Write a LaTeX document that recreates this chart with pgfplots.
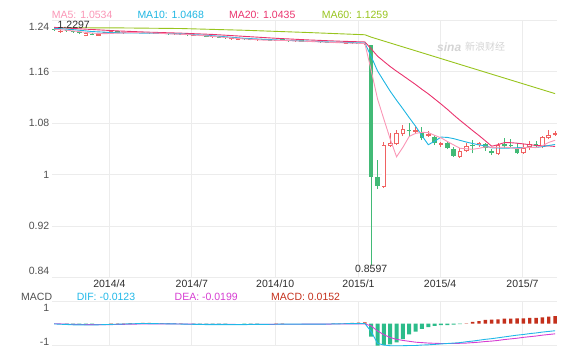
\documentclass[border=0pt]{standalone}
\usepackage{pgfplots}
\pgfplotsset{compat=1.18}
\usepackage{pgfplotstable}
\usepackage{fontspec}
\setmainfont{Liberation Sans}
\newfontfamily\cjk{Noto Sans CJK SC}
\definecolor{upc}{RGB}{240,98,98}
\definecolor{dnc}{RGB}{66,186,118}
\definecolor{ma5}{RGB}{250,150,182}
\definecolor{ma10}{RGB}{30,182,226}
\definecolor{ma20}{RGB}{234,52,110}
\definecolor{ma60}{RGB}{152,196,30}
\definecolor{difc}{RGB}{33,184,232}
\definecolor{deac}{RGB}{214,62,210}
\definecolor{barg}{RGB}{44,188,138}
\definecolor{barr}{RGB}{196,48,28}
\definecolor{gridc}{RGB}{236,236,236}
\definecolor{ylc}{RGB}{80,80,80}
\definecolor{xlc}{RGB}{45,45,45}
\definecolor{wmc}{RGB}{212,212,212}
\newcommand\lbl{\fontsize{10.5bp}{12bp}\selectfont}

\pgfplotstableread{
i O H L C
0 1.2262 1.2270 1.2240 1.2250
2 1.2240 1.2248 1.2222 1.2230
3 1.2228 1.2235 1.2205 1.2212
4 1.2212 1.2218 1.2186 1.2195
6 1.2190 1.2195 1.2165 1.2172
10 1.2222 1.2226 1.2205 1.2210
12 1.2215 1.2220 1.2198 1.2205
14 1.2210 1.2214 1.2196 1.2202
15 1.2202 1.2208 1.2190 1.2196
17 1.2198 1.2202 1.2184 1.2188
18 1.2190 1.2196 1.2178 1.2184
20 1.2188 1.2192 1.2170 1.2176
21 1.2176 1.2180 1.2160 1.2166
23 1.2170 1.2174 1.2150 1.2156
24 1.2156 1.2160 1.2138 1.2144
26 1.2144 1.2148 1.2124 1.2128
27 1.2128 1.2134 1.2116 1.2122
30 1.2112 1.2116 1.2098 1.2104
31 1.2104 1.2108 1.2088 1.2092
33 1.2100 1.2104 1.2086 1.2090
34 1.2090 1.2094 1.2078 1.2082
36 1.2094 1.2098 1.2080 1.2086
37 1.2086 1.2090 1.2070 1.2076
39 1.2080 1.2084 1.2064 1.2070
40 1.2070 1.2074 1.2058 1.2064
42 1.2068 1.2072 1.2050 1.2056
43 1.2056 1.2060 1.2044 1.2050
45 1.2056 1.2060 1.2040 1.2046
47 1.2052 1.2056 1.2034 1.2040
48 1.2040 1.2044 1.2026 1.2032
50 1.2016 1.2022 0.8597 0.9966
51 0.9966 1.0226 0.9774 0.9826
56 1.0700 1.0806 1.0588 1.0677
58 1.0666 1.0744 1.0537 1.0563
60 1.0588 1.0615 1.0459 1.0486
62 1.0486 1.0511 1.0392 1.0408
63 1.0397 1.0428 1.0272 1.0293
66 1.0459 1.0537 1.0330 1.0444
68 1.0475 1.0495 1.0370 1.0408
69 1.0366 1.0392 1.0303 1.0330
71 1.0475 1.0563 1.0408 1.0448
72 1.0459 1.0548 1.0408 1.0444
73 1.0392 1.0486 1.0325 1.0330
76 1.0475 1.0526 1.0423 1.0444
}\dnT

\pgfplotstableread{
i O H L C
1 1.2220 1.2297 1.2210 1.2240
5 1.2155 1.2205 1.2150 1.2200
7 1.2160 1.2190 1.2155 1.2185
8 1.2190 1.2225 1.2185 1.2218
9 1.2212 1.2230 1.2208 1.2222
11 1.2195 1.2222 1.2190 1.2216
13 1.2202 1.2215 1.2198 1.2210
16 1.2192 1.2206 1.2188 1.2200
19 1.2180 1.2194 1.2176 1.2190
22 1.2162 1.2176 1.2158 1.2172
25 1.2138 1.2150 1.2132 1.2146
28 1.2108 1.2130 1.2100 1.2124
29 1.2100 1.2125 1.2090 1.2112
32 1.2088 1.2104 1.2084 1.2100
35 1.2080 1.2098 1.2076 1.2094
38 1.2072 1.2084 1.2068 1.2080
41 1.2060 1.2072 1.2056 1.2068
44 1.2046 1.2060 1.2042 1.2056
46 1.2036 1.2085 1.2030 1.2052
49 1.2024 1.2036 1.2020 1.2030
52 0.9810 1.0511 0.9790 1.0459
53 1.0448 1.0646 1.0433 1.0486
54 1.0470 1.0693 1.0459 1.0641
55 1.0626 1.0771 1.0599 1.0708
57 1.0666 1.0744 1.0630 1.0693
59 1.0604 1.0682 1.0588 1.0630
61 1.0459 1.0511 1.0433 1.0486
64 1.0268 1.0408 1.0257 1.0370
65 1.0370 1.0486 1.0346 1.0448
67 1.0455 1.0511 1.0433 1.0486
70 1.0314 1.0495 1.0303 1.0459
74 1.0330 1.0475 1.0325 1.0408
75 1.0433 1.0526 1.0381 1.0475
77 1.0433 1.0599 1.0408 1.0588
78 1.0563 1.0693 1.0548 1.0615
79 1.0615 1.0682 1.0604 1.0641
}\upT

\pgfplotstableread{
i v
2 -0.02
3 -0.03
4 -0.04
5 -0.03
6 -0.02
22 -0.01
23 -0.015
24 -0.02
25 -0.02
26 -0.015
27 -0.01
30 -0.02
31 -0.02
32 -0.01
50 -0.59
51 -1.0
52 -0.97
53 -0.94
54 -0.85
55 -0.70
56 -0.48
57 -0.36
58 -0.24
59 -0.16
60 -0.10
61 -0.07
62 -0.06
63 -0.045
64 -0.015
}\macdG

\pgfplotstableread{
i v
9 0.01
10 0.02
11 0.02
12 0.03
13 0.03
14 0.035
15 0.035
16 0.03
17 0.03
18 0.025
19 0.02
20 0.015
35 0.01
36 0.01
44 0.01
45 0.02
46 0.03
47 0.04
48 0.05
49 0.06
65 0.02
66 0.08
67 0.12
68 0.17
69 0.18
70 0.20
71 0.23
72 0.23
73 0.245
74 0.245
75 0.26
76 0.27
77 0.29
78 0.32
79 0.35
}\macdR

\begin{document}
\begin{tikzpicture}[x=1bp,y=1bp]
\useasboundingbox (0,0) rectangle (566,357);

\begin{axis}[
  at={(52bp,79.6bp)}, anchor=south west,
  width=505bp, height=257.1bp, scale only axis,
  xmin=-0.33, xmax=79.3, ymin=0.84, ymax=1.24,
  axis line style={draw=none}, tick style={draw=none},
  xtick={8.714,21.714,34.857,48,60.857,73.857},
  xticklabels={2014/4,2014/7,2014/10,2015/1,2015/4,2015/7},
  ytick={0.84,0.92,1,1.08,1.16,1.24},
  yticklabels={,0.92,1,1.08,1.16,},
  grid=major, major grid style={draw=gridc, line width=0.7bp},
  xticklabel style={font=\lbl, text=xlc, inner sep=2.5bp},
  yticklabel style={font=\lbl, text=ylc, inner sep=2.5bp},
]
% down candles: wick, then filled body
\addplot[dnc, line width=1.1bp, forget plot, quiver={u=0, v={\thisrow{H}-\thisrow{L}}}]
  table[x=i, y=L] \dnT;
\addplot[dnc, line width=4.4bp, forget plot, quiver={u=0, v={max(\thisrow{O}-\thisrow{C},0.0016)}}]
  table[x=i, y=C] \dnT;
% up candles: wick, outline body, hollow inside
\addplot[upc, line width=1bp, forget plot, quiver={u=0, v={\thisrow{H}-\thisrow{L}}}]
  table[x=i, y=L] \upT;
\addplot[upc, line width=4.6bp, forget plot, quiver={u=0, v={max(\thisrow{C}-\thisrow{O},0.0016)}}]
  table[x=i, y=O] \upT;
\addplot[white, line width=2.8bp, forget plot, quiver={u=0, v={max(\thisrow{C}-\thisrow{O}-0.0028,0)}}]
  table[x=i, y expr={\thisrow{O}+0.0014}] \upT;

% moving averages
\addplot[ma60, line width=0.9bp, mark=none] coordinates {
(0,1.2285) (10,1.2282) (20,1.2272) (30,1.2245) (40,1.2210) (49,1.2175) (50,1.2138) (65,1.1683) (79,1.1259)};
\addplot[ma20, line width=0.9bp, mark=none] coordinates {
(0,1.2290) (5,1.2262) (10,1.2235) (15,1.2215) (20,1.2200) (25,1.2180) (30,1.2150) (35,1.2120) (40,1.2095) (45,1.2075) (49,1.2063)
(50,1.1956) (51,1.1842) (52,1.1760) (53,1.1680) (54,1.1608) (55,1.1540) (56,1.1470) (57,1.1401) (58,1.1326) (59,1.1256)
(60,1.1177) (61,1.1098) (62,1.1016) (63,1.0928) (64,1.0844) (65,1.0765) (66,1.0684) (67,1.0607) (68,1.0525) (69,1.0441)
(70,1.0465) (71,1.0497) (72,1.0496) (73,1.0488) (74,1.0477) (75,1.0465) (76,1.0453) (77,1.0448) (78,1.0446) (79,1.0437)};
\addplot[ma10, line width=0.9bp, mark=none] coordinates {
(0,1.2275) (3,1.2255) (6,1.2225) (10,1.2205) (15,1.2200) (20,1.2188) (25,1.2160) (30,1.2120) (35,1.2095) (40,1.2075) (45,1.2057) (49,1.2046)
(50,1.1836) (51,1.1612) (52,1.1453) (53,1.1296) (54,1.1156) (55,1.1023) (56,1.0885) (57,1.0751) (58,1.0604) (59,1.0465)
(60,1.0517) (61,1.0583) (62,1.0578) (63,1.0559) (64,1.0532) (65,1.0506) (66,1.0483) (67,1.0462) (68,1.0446) (69,1.0416)
(70,1.0413) (71,1.0410) (72,1.0413) (73,1.0417) (74,1.0421) (75,1.0423) (76,1.0423) (77,1.0434) (78,1.0452) (79,1.0468)};
\addplot[ma5, line width=0.9bp, mark=none] coordinates {
(0,1.2262) (2,1.2245) (4,1.2224) (6,1.2200) (8,1.2192) (10,1.2200) (12,1.2210) (15,1.2205) (18,1.2191) (21,1.2178) (24,1.2158)
(27,1.2132) (30,1.2110) (33,1.2092) (36,1.2087) (40,1.2072) (44,1.2055) (47,1.2045) (49,1.2038)
(50,1.1621) (51,1.1176) (52,1.0861) (53,1.0552) (54,1.0276) (55,1.0424) (56,1.0594) (57,1.0641) (58,1.0656) (59,1.0654)
(60,1.0610) (61,1.0572) (62,1.0515) (63,1.0461) (64,1.0409) (65,1.0401) (66,1.0393) (67,1.0408) (68,1.0431) (69,1.0423)
(70,1.0425) (71,1.0426) (72,1.0418) (73,1.0402) (74,1.0418) (75,1.0421) (76,1.0420) (77,1.0449) (78,1.0500) (79,1.0534)};

\node[anchor=north, font=\lbl, text=xlc, inner sep=0.6bp] at (axis cs:50,0.8597) {0.8597};
\end{axis}

\begin{axis}[
  at={(52bp,11.3bp)}, anchor=south west,
  width=505bp, height=44bp, scale only axis,
  xmin=-0.33, xmax=79.3, ymin=-1, ymax=1, clip=false,
  axis line style={draw=none}, tick style={draw=none},
  xtick={8.714,21.714,34.857,48,60.857,73.857},
  xticklabels={,,,,,},
  ytick={-1,1}, yticklabels={,},
  grid=major, major grid style={draw=gridc, line width=0.7bp},
]
\addplot[ybar, bar width=4bp, bar shift=0pt, fill=barg, draw=none] table[x=i, y=v] \macdG;
\addplot[ybar, bar width=3.4bp, bar shift=0pt, fill=barr, draw=none] table[x=i, y=v] \macdR;
\addplot[deac, line width=0.9bp, mark=none] coordinates {
(0,0) (3,-0.03) (6,-0.045) (9,-0.04) (14,-0.01) (19,-0.01) (24,-0.03) (30,-0.035) (36,-0.025) (42,-0.02) (46,-0.01) (49,-0.01)
(50,-0.10) (51,-0.33) (52,-0.50) (53,-0.63) (54,-0.71) (55,-0.76) (56,-0.80) (57,-0.84) (58,-0.86) (59,-0.88)
(60,-0.89) (61,-0.90) (62,-0.90) (63,-0.90) (64,-0.89) (65,-0.88) (66,-0.86) (67,-0.84) (68,-0.81) (69,-0.79)
(70,-0.76) (71,-0.72) (72,-0.69) (73,-0.66) (74,-0.62) (75,-0.59) (76,-0.56) (77,-0.52) (78,-0.49) (79,-0.46)};
\addplot[difc, line width=0.9bp, mark=none] coordinates {
(0,-0.01) (3,-0.05) (6,-0.06) (9,-0.03) (14,0.01) (19,-0.01) (24,-0.04) (30,-0.04) (36,-0.02) (42,-0.02) (46,0) (49,0.01)
(50,-0.36) (51,-0.89) (52,-0.97) (53,-1.0) (54,-1.0) (55,-1.0) (56,-0.99) (57,-0.99) (58,-0.97) (59,-0.96)
(60,-0.94) (61,-0.92) (62,-0.90) (63,-0.88) (64,-0.86) (65,-0.82) (66,-0.79) (67,-0.75) (68,-0.71) (69,-0.68)
(70,-0.64) (71,-0.60) (72,-0.56) (73,-0.52) (74,-0.49) (75,-0.45) (76,-0.42) (77,-0.38) (78,-0.35) (79,-0.32)};
\end{axis}

% clamped end tick labels
\node[anchor=east, font=\lbl, text=ylc, inner sep=0pt] at (49.5,329.7) {1.24};
\node[anchor=east, font=\lbl, text=ylc, inner sep=0pt] at (49.5,86.3) {0.84};
\node[anchor=east, font=\lbl, text=ylc, inner sep=0pt] at (49.5,49) {1};
\node[anchor=east, font=\lbl, text=ylc, inner sep=0pt] at (49.5,15.5) {-1};
% legends and annotations
\node[anchor=west, inner sep=0pt, font=\lbl, text=ma5] at (51.7,342) {MA5: 1.0534};
\node[anchor=west, inner sep=0pt, font=\lbl, text=ma10] at (137.3,342) {MA10: 1.0468};
\node[anchor=west, inner sep=0pt, font=\lbl, text=ma20] at (228.8,342) {MA20: 1.0435};
\node[anchor=west, inner sep=0pt, font=\lbl, text=ma60] at (321.6,342) {MA60: 1.1259};
\node[anchor=west, inner sep=0pt, font=\lbl, text=xlc] at (57.5,332.5) {1.2297};
\node[anchor=west, inner sep=0pt, font=\lbl, text=ylc] at (21,60) {MACD};
\node[anchor=west, inner sep=0pt, font=\lbl, text=difc] at (76.6,60) {DIF: -0.0123};
\node[anchor=west, inner sep=0pt, font=\lbl, text=deac] at (174.5,60) {DEA: -0.0199};
\node[anchor=west, inner sep=0pt, font=\lbl, text=barr] at (271,60) {MACD: 0.0152};
\node[anchor=west, inner sep=0pt, text=wmc] at (437,310) {\fontsize{12bp}{13bp}\selectfont\bfseries\itshape sina};
\node[anchor=west, inner sep=0pt, text=wmc] at (465,310) {\fontsize{10bp}{12bp}\selectfont\cjk 新浪财经};
\end{tikzpicture}
\end{document}
